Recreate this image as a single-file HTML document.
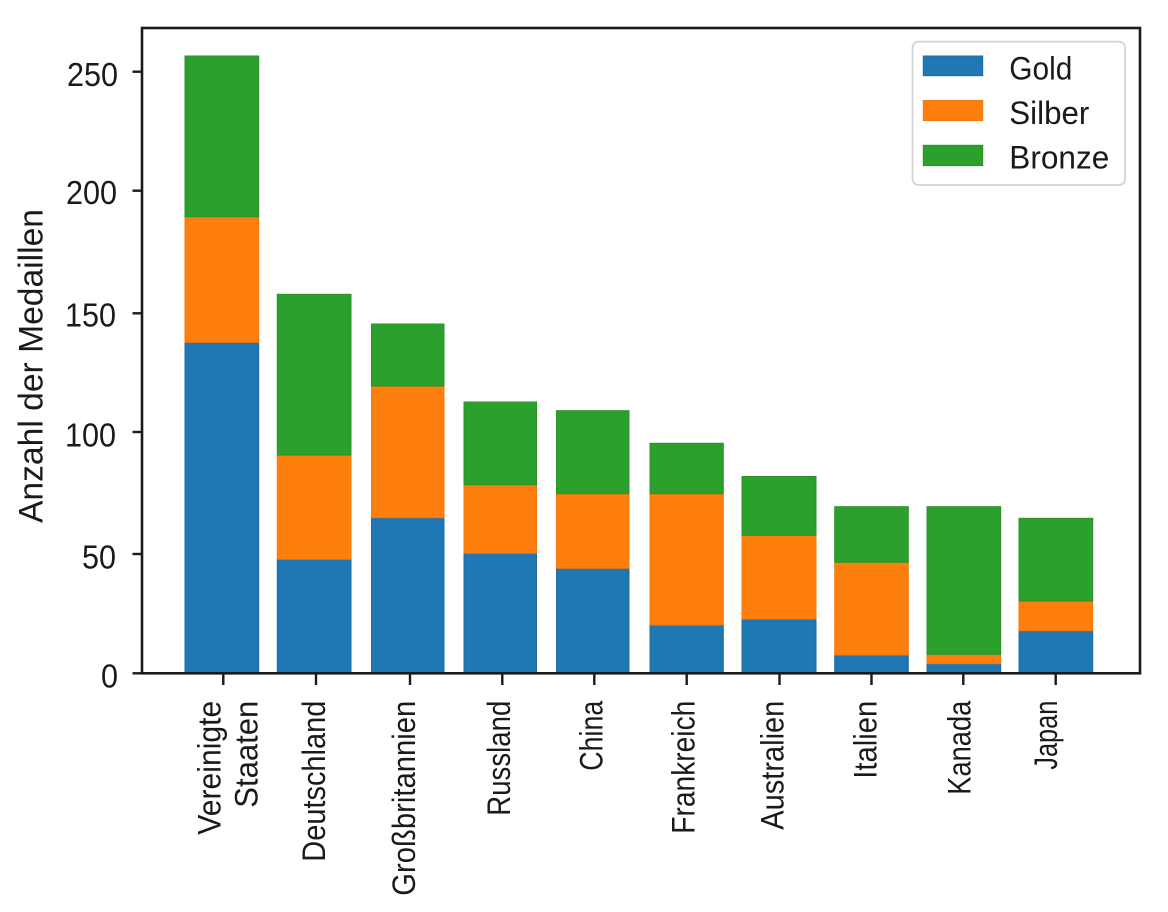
<!DOCTYPE html>
<html><head><meta charset="utf-8"><style>
html,body{margin:0;padding:0;background:#fff;}
svg{display:block;}
text{font-family:"Liberation Sans","DejaVu Sans",sans-serif;fill:#1a1a1a;}
</style></head><body>
<svg width="1168" height="912" viewBox="0 0 1168 912" xmlns="http://www.w3.org/2000/svg">
<rect width="1168" height="912" fill="#fff"/>
<g stroke-width="1">
<rect x="185" y="342.3" width="73.7" height="331" fill="#1f77b4" stroke="#1c6ca5"/>
<rect x="185" y="216.7" width="73.7" height="125.6" fill="#ff7f0e" stroke="#f0780d"/>
<rect x="185" y="56" width="73.7" height="160.7" fill="#2ca02c" stroke="#279327"/>
<rect x="277.3" y="559.3" width="73.7" height="114" fill="#1f77b4" stroke="#1c6ca5"/>
<rect x="277.3" y="455" width="73.7" height="104.3" fill="#ff7f0e" stroke="#f0780d"/>
<rect x="277.3" y="294.3" width="73.7" height="160.7" fill="#2ca02c" stroke="#279327"/>
<rect x="371.5" y="517.7" width="72.5" height="155.6" fill="#1f77b4" stroke="#1c6ca5"/>
<rect x="371.5" y="386" width="72.5" height="131.7" fill="#ff7f0e" stroke="#f0780d"/>
<rect x="371.5" y="324" width="72.5" height="62" fill="#2ca02c" stroke="#279327"/>
<rect x="464" y="553.3" width="72.5" height="120" fill="#1f77b4" stroke="#1c6ca5"/>
<rect x="464" y="484.7" width="72.5" height="68.6" fill="#ff7f0e" stroke="#f0780d"/>
<rect x="464" y="402" width="72.5" height="82.7" fill="#2ca02c" stroke="#279327"/>
<rect x="556.5" y="568.3" width="72.5" height="105" fill="#1f77b4" stroke="#1c6ca5"/>
<rect x="556.5" y="493.7" width="72.5" height="74.6" fill="#ff7f0e" stroke="#f0780d"/>
<rect x="556.5" y="410.7" width="72.5" height="83" fill="#2ca02c" stroke="#279327"/>
<rect x="650" y="625" width="73.3" height="48.3" fill="#1f77b4" stroke="#1c6ca5"/>
<rect x="650" y="493.7" width="73.3" height="131.3" fill="#ff7f0e" stroke="#f0780d"/>
<rect x="650" y="443.3" width="73.3" height="50.4" fill="#2ca02c" stroke="#279327"/>
<rect x="742" y="619" width="74" height="54.3" fill="#1f77b4" stroke="#1c6ca5"/>
<rect x="742" y="535.3" width="74" height="83.7" fill="#ff7f0e" stroke="#f0780d"/>
<rect x="742" y="476.5" width="74" height="58.8" fill="#2ca02c" stroke="#279327"/>
<rect x="834.7" y="655" width="73.6" height="18.3" fill="#1f77b4" stroke="#1c6ca5"/>
<rect x="834.7" y="562.3" width="73.6" height="92.7" fill="#ff7f0e" stroke="#f0780d"/>
<rect x="834.7" y="506.7" width="73.6" height="55.6" fill="#2ca02c" stroke="#279327"/>
<rect x="927" y="663.7" width="73.7" height="9.6" fill="#1f77b4" stroke="#1c6ca5"/>
<rect x="927" y="654.3" width="73.7" height="9.4" fill="#ff7f0e" stroke="#f0780d"/>
<rect x="927" y="506.7" width="73.7" height="147.6" fill="#2ca02c" stroke="#279327"/>
<rect x="1019" y="630.7" width="73.7" height="42.6" fill="#1f77b4" stroke="#1c6ca5"/>
<rect x="1019" y="601" width="73.7" height="29.7" fill="#ff7f0e" stroke="#f0780d"/>
<rect x="1019" y="518.3" width="73.7" height="82.7" fill="#2ca02c" stroke="#279327"/>
</g>
<rect x="142" y="28" width="998" height="645.3" fill="none" stroke="#1a1a1a" stroke-width="2.6"/>
<g stroke="#1a1a1a" stroke-width="2.4">
<line x1="132.5" y1="71.7" x2="142" y2="71.7"/>
<line x1="132.5" y1="190.7" x2="142" y2="190.7"/>
<line x1="132.5" y1="313.3" x2="142" y2="313.3"/>
<line x1="132.5" y1="432" x2="142" y2="432"/>
<line x1="132.5" y1="554" x2="142" y2="554"/>
<line x1="132.5" y1="673.3" x2="142" y2="673.3"/>
</g>
<g font-size="33" text-anchor="end">
<text x="118" y="86" textLength="51" lengthAdjust="spacingAndGlyphs">250</text>
<text x="117" y="204" textLength="51" lengthAdjust="spacingAndGlyphs">200</text>
<text x="116" y="326.7" textLength="51" lengthAdjust="spacingAndGlyphs">150</text>
<text x="116" y="446.5" textLength="51" lengthAdjust="spacingAndGlyphs">100</text>
<text x="116" y="568.3" textLength="34" lengthAdjust="spacingAndGlyphs">50</text>
<text x="118" y="687.3" textLength="17" lengthAdjust="spacingAndGlyphs">0</text>
</g>
<g stroke="#1a1a1a" stroke-width="2.4">
<line x1="223.3" y1="673.3" x2="223.3" y2="685"/>
<line x1="316" y1="673.3" x2="316" y2="685"/>
<line x1="410" y1="673.3" x2="410" y2="685"/>
<line x1="502.3" y1="673.3" x2="502.3" y2="685"/>
<line x1="594.3" y1="673.3" x2="594.3" y2="685"/>
<line x1="686.7" y1="673.3" x2="686.7" y2="685"/>
<line x1="779.5" y1="673.3" x2="779.5" y2="685"/>
<line x1="871.5" y1="673.3" x2="871.5" y2="685"/>
<line x1="963.3" y1="673.3" x2="963.3" y2="685"/>
<line x1="1055.7" y1="673.3" x2="1055.7" y2="685"/>
</g>
<g font-size="32" text-anchor="end">
<text transform="translate(220.7,700.7) rotate(-90)" textLength="134" lengthAdjust="spacingAndGlyphs">Vereinigte</text>
<text transform="translate(257.3,700.7) rotate(-90)" textLength="107" lengthAdjust="spacingAndGlyphs">Staaten</text>
<text transform="translate(325,700.7) rotate(-90)" textLength="161" lengthAdjust="spacingAndGlyphs">Deutschland</text>
<text transform="translate(415,700.7) rotate(-90)" textLength="195" lengthAdjust="spacingAndGlyphs">Großbritannien</text>
<text transform="translate(510,700.7) rotate(-90)" textLength="115" lengthAdjust="spacingAndGlyphs">Russland</text>
<text transform="translate(602.3,700.7) rotate(-90)" textLength="70" lengthAdjust="spacingAndGlyphs">China</text>
<text transform="translate(694.3,700.7) rotate(-90)" textLength="133" lengthAdjust="spacingAndGlyphs">Frankreich</text>
<text transform="translate(783.3,700.7) rotate(-90)" textLength="129" lengthAdjust="spacingAndGlyphs">Australien</text>
<text transform="translate(876.7,700.7) rotate(-90)" textLength="78" lengthAdjust="spacingAndGlyphs">Italien</text>
<text transform="translate(970.7,700.7) rotate(-90)" textLength="94" lengthAdjust="spacingAndGlyphs">Kanada</text>
<text transform="translate(1057,700.7) rotate(-90)" textLength="69" lengthAdjust="spacingAndGlyphs">Japan</text>
</g>
<text font-size="34" text-anchor="middle" transform="translate(42.7,366) rotate(-90)" textLength="314" lengthAdjust="spacingAndGlyphs">Anzahl der Medaillen</text>
<rect x="912.5" y="41.7" width="212.5" height="143.3" rx="6" ry="6" fill="#fff" stroke="#d4d4d4" stroke-width="1.8"/>
<rect x="923.3" y="56" width="59.4" height="19.7" fill="#1f77b4" stroke="#1c6ca5" stroke-width="1"/>
<rect x="923.3" y="100.5" width="59.4" height="20" fill="#ff7f0e" stroke="#f0780d" stroke-width="1"/>
<rect x="923.3" y="145.3" width="59.4" height="20.3" fill="#2ca02c" stroke="#279327" stroke-width="1"/>
<g font-size="32">
<text x="1009.3" y="79.3" textLength="63" lengthAdjust="spacingAndGlyphs">Gold</text>
<text x="1009.3" y="124" textLength="80" lengthAdjust="spacingAndGlyphs">Silber</text>
<text x="1009.3" y="168.3" textLength="100" lengthAdjust="spacingAndGlyphs">Bronze</text>
</g>
</svg>
</body></html>
